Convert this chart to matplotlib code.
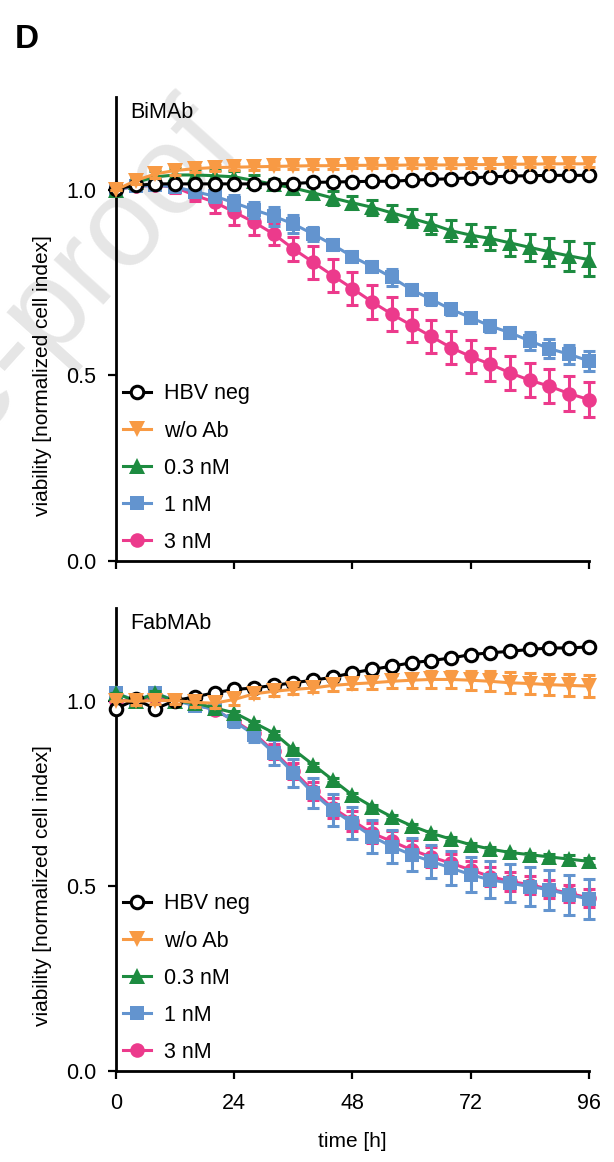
import matplotlib
matplotlib.use("Agg")
import matplotlib.pyplot as plt
import numpy as np

plt.rcParams["font.family"] = ["Liberation Sans", "DejaVu Sans"]
plt.rcParams["font.size"] = 15

# sampling times (h)
time_h = np.arange(0, 97, 4)

groups = ["HBV neg", "w/o Ab", "0.3 nM", "1 nM", "3 nM"]
colors = ["black", "#f89a44", "#1d8b40", "#6394cf", "#ec3a8c"]
markers = ["o", "v", "^", "s", "o"]

# BiMAb panel: mean normalized cell index and SD
bi_hbv = [1.003, 1.012, 1.016, 1.016, 1.016, 1.016, 1.016, 1.016, 1.016, 1.017, 1.020, 1.021, 1.022,
          1.023, 1.023, 1.026, 1.028, 1.030, 1.032, 1.035, 1.037, 1.038, 1.039, 1.039, 1.039]
bi_woab = [1.0, 1.025, 1.043, 1.052, 1.057, 1.060, 1.061, 1.062, 1.063, 1.064, 1.065, 1.065, 1.066,
           1.066, 1.066, 1.067, 1.067, 1.067, 1.068, 1.068, 1.069, 1.069, 1.070, 1.070, 1.070]
bi_03 = [1.0, 1.02, 1.035, 1.04, 1.04, 1.038, 1.035, 1.025, 1.015, 1.005, 0.992, 0.978, 0.965,
         0.953, 0.938, 0.923, 0.908, 0.890, 0.878, 0.869, 0.857, 0.845, 0.833, 0.822, 0.812]
bi_1 = [1.0, 1.01, 1.012, 1.008, 0.995, 0.983, 0.965, 0.946, 0.929, 0.908, 0.881, 0.852, 0.820,
        0.793, 0.764, 0.731, 0.705, 0.678, 0.656, 0.633, 0.615, 0.593, 0.572, 0.557, 0.539]
bi_3 = [1.0, 1.01, 1.012, 1.007, 0.985, 0.967, 0.940, 0.913, 0.881, 0.841, 0.805, 0.769, 0.734,
        0.698, 0.665, 0.635, 0.605, 0.575, 0.551, 0.530, 0.507, 0.487, 0.471, 0.451, 0.435]

bi_hbv_sd = [0] + [0.004] * 24
bi_woab_sd = [0, 0.01, 0.012, 0.012] + [0.008] * 21
bi_03_sd = [0, 0.012, 0.015, 0.018, 0.015, 0.015, 0.015, 0.015, 0.015, 0.015, 0.018, 0.018, 0.018,
            0.020, 0.022, 0.024, 0.027, 0.028, 0.030, 0.032, 0.034, 0.036, 0.038, 0.041, 0.044]
bi_1_sd = [0, 0.008, 0.010, 0.012, 0.014, 0.016, 0.020, 0.022, 0.026, 0.025, 0.018, 0.015, 0.015,
           0.015, 0.022, 0.015, 0.015, 0.015, 0.015, 0.015, 0.015, 0.025, 0.025, 0.025, 0.027]
bi_3_sd = [0, 0.008, 0.012, 0.015, 0.014, 0.030, 0.034, 0.034, 0.030, 0.032, 0.045, 0.045, 0.045,
           0.045, 0.045, 0.045, 0.045, 0.045, 0.045, 0.045, 0.045, 0.046, 0.046, 0.047, 0.047]

# FabMAb panel
fab_hbv = [0.978, 1.003, 0.978, 1.0, 1.010, 1.021, 1.030, 1.034, 1.041, 1.048, 1.055, 1.063, 1.075,
           1.084, 1.093, 1.102, 1.108, 1.115, 1.124, 1.129, 1.133, 1.138, 1.142, 1.142, 1.145]
fab_woab = [1.0, 0.998, 1.0, 1.0, 0.995, 0.993, 1.003, 1.018, 1.025, 1.030, 1.034, 1.041, 1.045,
            1.048, 1.052, 1.055, 1.057, 1.057, 1.055, 1.052, 1.048, 1.046, 1.043, 1.041, 1.039]
fab_03 = [1.02, 0.998, 1.02, 0.998, 0.994, 0.980, 0.967, 0.940, 0.913, 0.868, 0.827, 0.786, 0.745,
          0.714, 0.686, 0.662, 0.642, 0.626, 0.611, 0.599, 0.590, 0.584, 0.578, 0.572, 0.566]
fab_1 = [1.02, 1.0, 1.02, 1.0, 0.986, 0.977, 0.944, 0.908, 0.859, 0.805, 0.750, 0.705, 0.669,
         0.633, 0.606, 0.584, 0.566, 0.548, 0.530, 0.516, 0.507, 0.498, 0.489, 0.476, 0.464]
fab_3 = [1.0, 1.0, 1.01, 1.0, 0.990, 0.975, 0.946, 0.912, 0.863, 0.810, 0.756, 0.710, 0.676,
         0.642, 0.620, 0.597, 0.578, 0.561, 0.543, 0.525, 0.512, 0.503, 0.491, 0.480, 0.467]

fab_hbv_sd = [0] + [0.004] * 24
fab_woab_sd = [0, 0.010, 0.010, 0.010, 0.012, 0.014, 0.014, 0.012, 0.012, 0.012, 0.012, 0.014, 0.015,
               0.016, 0.018, 0.020, 0.022, 0.024, 0.026, 0.027, 0.028, 0.028, 0.029, 0.030, 0.030]
fab_03_sd = [0] + [0.005] * 21 + [0.008, 0.010, 0.010]
fab_1_sd = [0, 0.010, 0.010, 0.010, 0.010, 0.012, 0.015, 0.020, 0.034, 0.038, 0.040, 0.043, 0.043,
            0.044, 0.044, 0.045, 0.045, 0.047, 0.048, 0.050, 0.052, 0.052, 0.053, 0.054, 0.054]
fab_3_sd = [0, 0.008, 0.008, 0.008, 0.010, 0.012, 0.014, 0.016, 0.020, 0.022, 0.024, 0.026, 0.027,
            0.027, 0.027, 0.027, 0.026, 0.026, 0.025, 0.025, 0.025, 0.024, 0.024, 0.023, 0.023]

panels = [
    ("BiMAb", [bi_hbv, bi_woab, bi_03, bi_1, bi_3], [bi_hbv_sd, bi_woab_sd, bi_03_sd, bi_1_sd, bi_3_sd]),
    ("FabMAb", [fab_hbv, fab_woab, fab_03, fab_1, fab_3], [fab_hbv_sd, fab_woab_sd, fab_03_sd, fab_1_sd, fab_3_sd]),
]

# drawing order, bottom to top
draw_order = [4, 3, 2, 0, 1]

fig = plt.figure(figsize=(6.14, 11.62), dpi=100)

# faint watermark behind everything
fig.text(0.398, 0.872, "Journal Pre-proof", fontsize=91, color="#e6e6e6",
         rotation=48, rotation_mode="anchor", ha="right", va="baseline", zorder=-5)

fig.text(15 / 614, 1 - 48 / 1162, "D", fontsize=24, fontweight="bold", ha="left", va="baseline")

axes_pos = [[0.189, 0.5172, 0.770, 0.3993], [0.189, 0.0783, 0.770, 0.3985]]

for k, (name, means, sds) in enumerate(panels):
    ax = fig.add_axes(axes_pos[k])
    ax.patch.set_alpha(0)
    handles = [None] * 5
    for z, i in enumerate(draw_order):
        filled = i != 0
        ms = {"o": 10.5, "v": 11.5, "^": 11.5, "s": 10.5}[markers[i]]
        if i == 0:
            ms = 9
        ax.errorbar(time_h, means[i], yerr=sds[i], fmt="none", ecolor=colors[i],
                    elinewidth=2.2, capsize=4.5, capthick=2.2, clip_on=False, zorder=2 + z)
        line, = ax.plot(time_h, means[i], color=colors[i], lw=2.2, marker=markers[i],
                        ms=ms, mew=2.2 if i == 0 else 0,
                        mfc=colors[i] if filled else "white", mec=colors[i],
                        clip_on=False, zorder=2.5 + z, label=groups[i])
        handles[i] = line

    ax.set_xlim(0, 96)
    ax.set_ylim(0, 1.25)
    ax.set_xticks([0, 24, 48, 72, 96])
    ax.set_yticks([0, 0.5, 1.0])
    ax.set_yticklabels(["0.0", "0.5", "1.0"])
    for side in ["top", "right"]:
        ax.spines[side].set_visible(False)
    for side in ["left", "bottom"]:
        ax.spines[side].set_linewidth(2)
    ax.tick_params(width=1.6, length=6, direction="out", labelsize=15.5, pad=8)
    ax.tick_params(axis="x", pad=10)
    if k == 0:
        ax.tick_params(axis="x", labelbottom=False)
    else:
        ax.set_xlabel("time [h]", fontsize=15, labelpad=13)

    ax.set_ylabel("viability [normalized cell index]", fontsize=15)
    ax.yaxis.set_label_coords(-0.135, 0.4)

    ax.text(0.03, 0.989, name, transform=ax.transAxes, fontsize=15.5, ha="left", va="top")

    ax.legend(handles=handles, loc="lower left", bbox_to_anchor=(7 / 473, 8 / 464),
              frameon=False, borderaxespad=0, borderpad=0, handlelength=1.3,
              handletextpad=0.6, labelspacing=0.75, fontsize=15.5)

fig.savefig("out.png", dpi=100)
